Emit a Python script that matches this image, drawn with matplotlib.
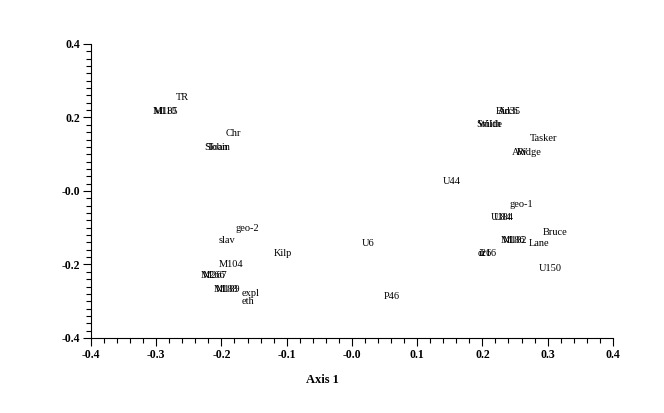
import matplotlib.pyplot as plt
from matplotlib.ticker import MultipleLocator, FixedLocator, FixedFormatter

plt.rcParams['font.family'] = ['Liberation Serif', 'DejaVu Serif']

# point labels and their ordination scores (axis 1, axis 2)
labels = ['TR', 'M110', 'M185', 'Chr', 'Sloan', 'Tobin',
          'Birch', 'Ad35', 'Smith', 'Wilde', 'Tasker', 'AW', 'Ridge',
          'U44', 'geo-1', 'U184', 'U84', 'Bruce', 'M186', 'M182', 'Lane',
          'dr16', 'i26', 'U150', 'U6', 'P46',
          'geo-2', 'slav', 'Kilp', 'M104', 'M266', 'M267', 'M188', 'M189',
          'expl', 'eth']
axis1 = [-0.270, -0.306, -0.303, -0.193, -0.226, -0.223,
         0.220, 0.224, 0.190, 0.194, 0.273, 0.245, 0.253,
         0.139, 0.241, 0.213, 0.218, 0.293, 0.228, 0.231, 0.271,
         0.192, 0.195, 0.287, 0.015, 0.049,
         -0.178, -0.204, -0.120, -0.204, -0.232, -0.229, -0.212, -0.209,
         -0.169, -0.169]
axis2 = [0.253, 0.215, 0.215, 0.155, 0.117, 0.117,
         0.215, 0.215, 0.180, 0.180, 0.144, 0.106, 0.106,
         0.025, -0.038, -0.071, -0.071, -0.112, -0.136, -0.136, -0.144,
         -0.169, -0.169, -0.210, -0.144, -0.286,
         -0.101, -0.136, -0.171, -0.199, -0.231, -0.231, -0.267, -0.267,
         -0.278, -0.302]

xticks = [-0.4, -0.3, -0.2, -0.1, 0.0, 0.1, 0.2, 0.3, 0.4]
xticklabels = ['-0.4', '-0.3', '-0.2', '-0.1', '-0.0', '0.1', '0.2', '0.3', '0.4']
yticks = [-0.4, -0.2, 0.0, 0.2, 0.4]
yticklabels = ['-0.4', '-0.2', '-0.0', '0.2', '0.4']

fig = plt.figure(figsize=(6.64, 4.13), dpi=100)
ax = fig.add_axes([0.137, 0.1816, 0.786, 0.712])

for lab, x, y in zip(labels, axis1, axis2):
    ax.text(x, y, lab, ha='left', va='center', fontsize=7.5)

ax.set_xlim(-0.4, 0.4)
ax.set_ylim(-0.4, 0.4)
ax.spines['top'].set_visible(False)
ax.spines['right'].set_visible(False)
for s in ['left', 'bottom']:
    ax.spines[s].set_linewidth(0.8)

ax.xaxis.set_major_locator(FixedLocator(xticks))
ax.xaxis.set_major_formatter(FixedFormatter(xticklabels))
ax.yaxis.set_major_locator(FixedLocator(yticks))
ax.yaxis.set_major_formatter(FixedFormatter(yticklabels))
ax.xaxis.set_minor_locator(MultipleLocator(0.02))
ax.yaxis.set_minor_locator(MultipleLocator(0.02))
ax.tick_params(which='major', direction='out', length=6, width=0.8, labelsize=8.5, pad=2)
ax.tick_params(which='minor', direction='out', length=3.5, width=0.8)
for t in ax.get_xticklabels() + ax.get_yticklabels():
    t.set_fontweight('bold')

fig.text(0.486, 0.08, 'Axis 1', ha='center', va='center', fontsize=9, fontweight='bold')

fig.savefig('out.png', dpi=100)
